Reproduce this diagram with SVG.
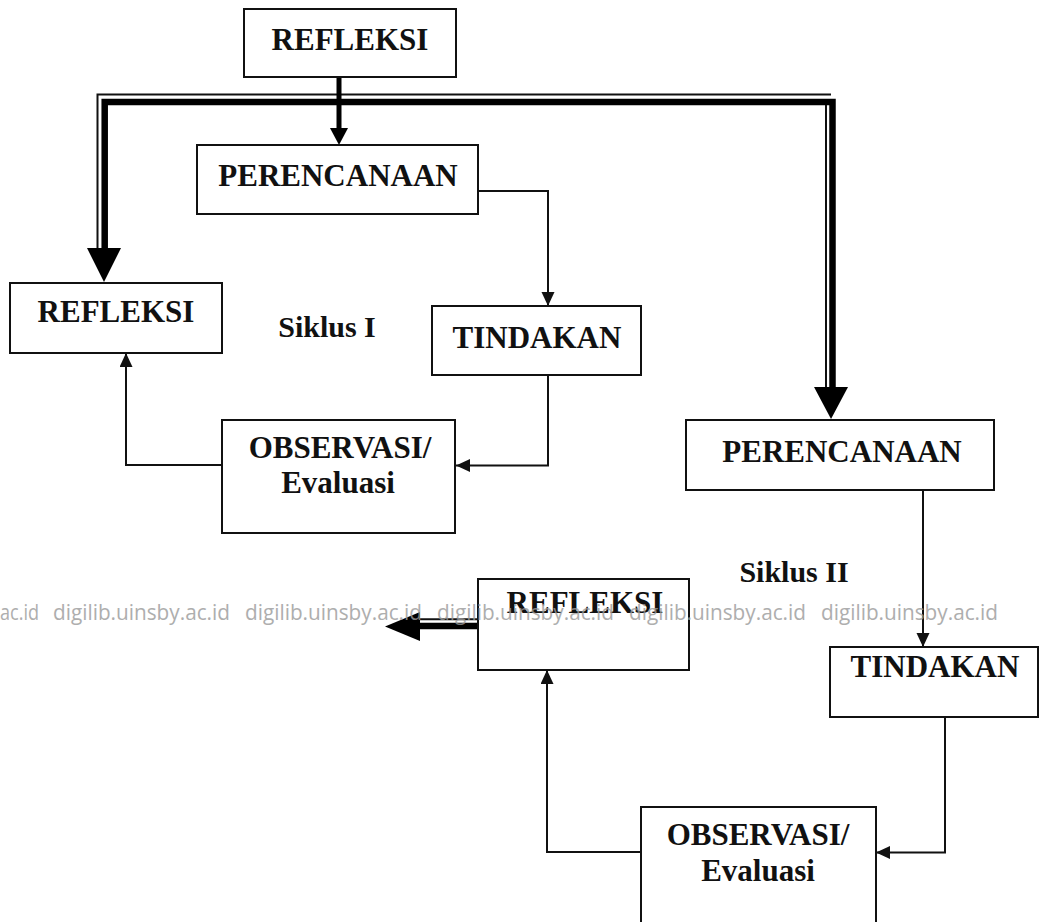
<svg xmlns="http://www.w3.org/2000/svg" width="1044" height="922" viewBox="0 0 1044 922">
<style>
.box{fill:#fff;stroke:#111;stroke-width:2}
.lbl{font-family:"Liberation Serif","Times New Roman",serif;font-weight:bold;font-size:31px;fill:#111;text-anchor:middle}
.con{fill:none;stroke:#111;stroke-width:2}
.thin2{fill:none;stroke:#111;stroke-width:2}
.thick{fill:none;stroke:#000;stroke-width:6.5}
.head{fill:#000}
.wm{font-family:"Open Sans","Noto Sans",sans-serif;font-size:21px;fill:#9a9a9a;opacity:0.8}
</style>
<defs>
<marker id="arr" markerUnits="userSpaceOnUse" markerWidth="16" markerHeight="14" refX="14" refY="6.5" orient="auto">
<path d="M0,0 L14,6.5 L0,13 Z" fill="#111"/>
</marker>
</defs>
<rect width="1044" height="922" fill="#fff"/>

<g id="connectors">
<path class="thin2" d="M97.5,248 V94.5 H831"/>
<path class="thick" d="M104.7,250 V102 H832.5 V390"/>
<path class="thin2" d="M826,105 V388"/>
<polygon class="head" points="87,248 121,248 104,282"/>
<polygon class="head" points="814,387 848,387 831,419"/>
<line x1="339" y1="77" x2="339" y2="130" stroke="#000" stroke-width="5"/>
<polygon class="head" points="330,128 348,128 339,145"/>
<path class="con" d="M478,191 H548 V306" marker-end="url(#arr)"/>
<path class="con" d="M548,375 V465.5 H456" marker-end="url(#arr)"/>
<path class="con" d="M222,465 H126 V353" marker-end="url(#arr)"/>
<path class="con" d="M923,490 V647" marker-end="url(#arr)"/>
<path class="con" d="M945,717 V852.5 H876" marker-end="url(#arr)"/>
<path class="con" d="M641,852 H547 V670" marker-end="url(#arr)"/>
<line x1="420" y1="619.3" x2="478" y2="619.3" stroke="#111" stroke-width="2"/>
<line x1="418" y1="626" x2="478" y2="626" stroke="#000" stroke-width="6.5"/>
<polygon class="head" points="420,612 420,641 385,626.5"/>
</g>

<g id="n-refleksi-top">
<rect class="box" x="244" y="9" width="212" height="68"/>
<text class="lbl" x="350" y="50">REFLEKSI</text>
</g>
<g id="n-perencanaan-1">
<rect class="box" x="197" y="145" width="281" height="69"/>
<text class="lbl" x="338" y="186">PERENCANAAN</text>
</g>
<g id="n-refleksi-1">
<rect class="box" x="10" y="283" width="212" height="70"/>
<text class="lbl" x="116" y="322">REFLEKSI</text>
</g>
<g id="label-siklus-1">
<text class="lbl" x="327" y="337" style="font-size:30px">Siklus I</text>
</g>
<g id="n-tindakan-1">
<rect class="box" x="432" y="306" width="209" height="69"/>
<text class="lbl" x="537" y="348">TINDAKAN</text>
</g>
<g id="n-observasi-1">
<rect class="box" x="222" y="420" width="233" height="113"/>
<text class="lbl" x="340" y="458">OBSERVASI/</text>
<text class="lbl" x="338" y="493">Evaluasi</text>
</g>
<g id="n-perencanaan-2">
<rect class="box" x="686" y="420" width="308" height="70"/>
<text class="lbl" x="842" y="462">PERENCANAAN</text>
</g>
<g id="label-siklus-2">
<text class="lbl" x="794" y="582" style="font-size:30px">Siklus II</text>
</g>
<g id="n-refleksi-2">
<rect class="box" x="478" y="579" width="211" height="91"/>
<text class="lbl" x="585" y="613">REFLEKSI</text>
</g>
<g id="n-tindakan-2">
<rect class="box" x="830" y="647" width="208" height="70"/>
<text class="lbl" x="935" y="677">TINDAKAN</text>
</g>
<g id="n-observasi-2">
<rect class="box" x="641" y="807" width="235" height="120"/>
<text class="lbl" x="758" y="845">OBSERVASI/</text>
<text class="lbl" x="758" y="881">Evaluasi</text>
</g>

<g id="watermark">
<text class="wm" x="0" y="620" textLength="39" lengthAdjust="spacingAndGlyphs">ac.id</text>
<text class="wm" x="53" y="620" textLength="177" lengthAdjust="spacingAndGlyphs">digilib.uinsby.ac.id</text>
<text class="wm" x="245" y="620" textLength="177" lengthAdjust="spacingAndGlyphs">digilib.uinsby.ac.id</text>
<text class="wm" x="437" y="620" textLength="177" lengthAdjust="spacingAndGlyphs">digilib.uinsby.ac.id</text>
<text class="wm" x="629" y="620" textLength="177" lengthAdjust="spacingAndGlyphs">digilib.uinsby.ac.id</text>
<text class="wm" x="821" y="620" textLength="177" lengthAdjust="spacingAndGlyphs">digilib.uinsby.ac.id</text>
</g>
</svg>
